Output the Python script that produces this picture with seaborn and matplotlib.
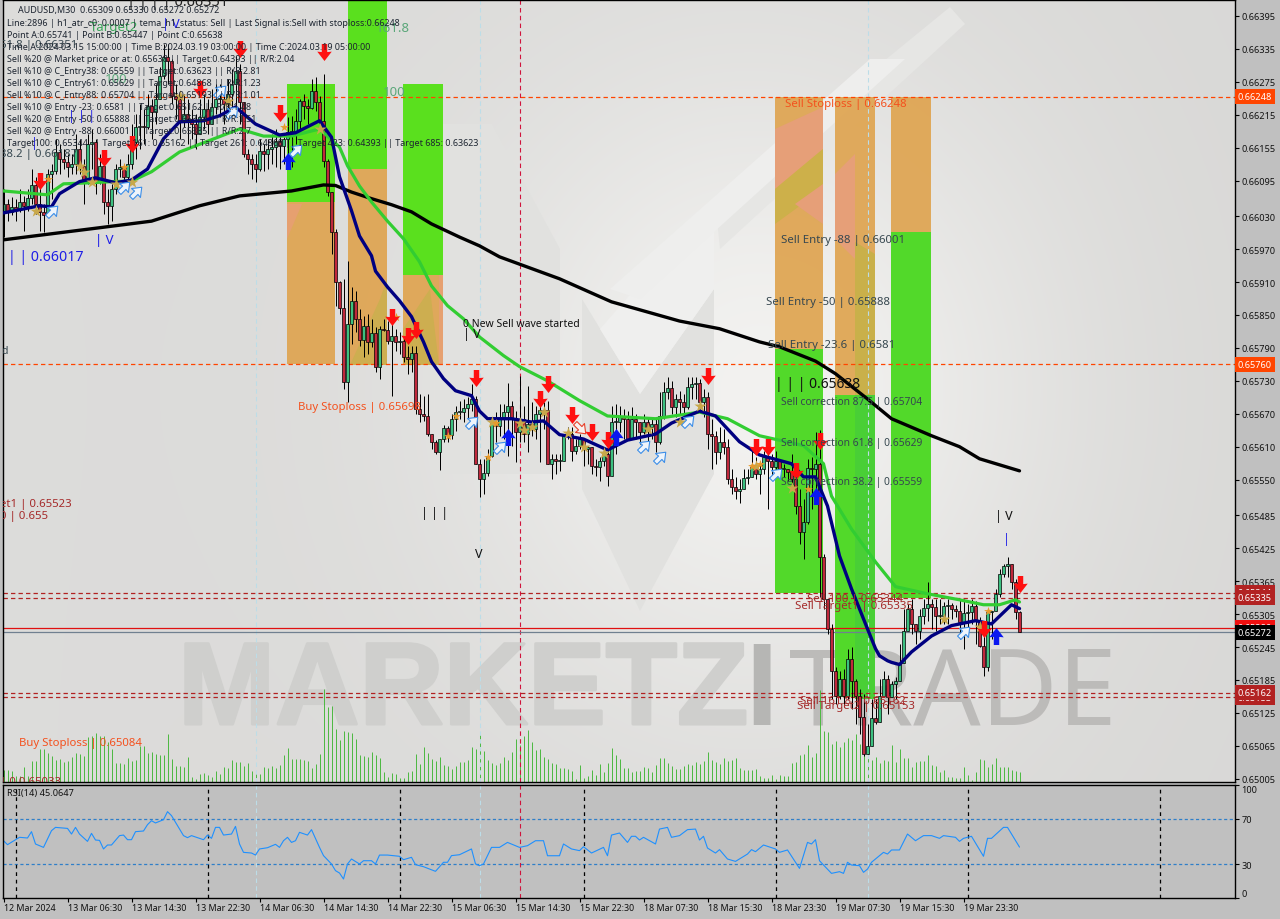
import numpy as np
import pandas as pd
import matplotlib
matplotlib.use("Agg")
import matplotlib.pyplot as plt
import matplotlib.transforms as mtrans
import matplotlib.patheffects as pe
from matplotlib.path import Path
from matplotlib.patches import Polygon, Rectangle
import seaborn as sns

closes = [
66052,66038,66047,66043,66056,66049,66063,66087,66052,66038,
66032,66107,66113,66147,66134,66129,66120,66125,66153,66122,
66093,66162,66165,66093,66122,66056,66049,66080,66116,66120,
66102,66125,66165,66193,66195,66193,66231,66220,66244,66286,
66320,66313,66249,66244,66202,66216,66207,66198,66180,66211,
66226,66198,66229,66244,66244,66235,66253,66271,66295,66238,
66144,66134,66125,66116,66149,66144,66153,66156,66167,66158,
66171,66184,66184,66204,66240,66231,66227,66258,66238,66204,
66131,66074,66001,65910,65863,65728,65834,65876,65843,65805,
65830,65801,65817,65755,65825,65823,65802,65812,65801,65802,
65773,65770,65781,65679,65670,65666,65633,65619,65601,65624,
65644,65632,65661,65673,65673,65681,65688,65697,65579,65551,
65562,65593,65655,65648,65661,65673,65684,65663,65637,65661,
65633,65652,65643,65670,65676,65676,65579,65588,65584,65584,
65630,65633,65602,65611,65624,65606,65610,65575,65573,65584,
65597,65557,65655,65655,65664,65661,65624,65661,65655,65637,
65655,65646,65652,65619,65666,65710,65717,65683,65697,65692,
65683,65719,65725,65726,65692,65701,65633,65630,65601,65619,
65610,65551,65537,65530,65533,65553,65555,65573,65561,65570,
65592,65584,65573,65584,65570,65570,65564,65551,65502,65455,
65473,65571,65570,65579,65409,65333,65278,65202,65156,65187,
65156,65223,65183,65156,65118,65050,65065,65116,65109,65156,
65187,65154,65178,65183,65216,65274,65315,65287,65274,65302,
65316,65324,65318,65302,65302,65320,65322,65315,65311,65291,
65307,65309,65320,65293,65247,65209,65309,65311,65342,65378,
65393,65397,65364,65309,65272]
highs = [
66080,66062,66065,66062,66080,66067,66080,66116,66102,66089,
66052,66116,66125,66171,66162,66153,66144,66144,66180,66171,
66134,66180,66189,66171,66144,66134,66080,66089,66125,66134,
66125,66144,66198,66216,66235,66226,66253,66244,66271,66302,
66344,66344,66317,66271,66253,66253,66244,66226,66216,66244,
66253,66244,66262,66271,66271,66253,66280,66298,66322,66308,
66207,66153,66144,66144,66171,66162,66171,66180,66189,66180,
66175,66211,66213,66226,66244,66253,66244,66280,66284,66249,
66289,66134,66074,66007,65912,65916,65949,65901,65894,65861,
65848,65852,65843,65828,65830,65843,65839,65837,65825,65819,
65810,65794,65794,65794,65706,65702,65706,65633,65622,65624,
65650,65648,65670,65684,65693,65697,65701,65724,65703,65588,
65588,65606,65661,65673,65688,65688,65726,65693,65675,65739,
65684,65721,65692,65684,65688,65692,65693,65597,65597,65597,
65633,65646,65646,65624,65633,65615,65611,65610,65588,65591,
65606,65633,65684,65688,65684,65679,65675,65682,65670,65652,
65670,65664,65664,65664,65710,65728,65737,65730,65706,65712,
65706,65737,65737,65737,65734,65715,65710,65661,65639,65646,
65643,65624,65570,65555,65551,65570,65570,65606,65591,65584,
65602,65597,65597,65602,65584,65579,65570,65597,65570,65533,
65515,65588,65591,65637,65640,65415,65333,65287,65209,65202,
65205,65242,65245,65187,65169,65160,65105,65151,65151,65187,
65202,65194,65183,65190,65251,65315,65324,65333,65287,65315,
65333,65364,65333,65333,65333,65327,65333,65326,65322,65333,
65333,65324,65333,65329,65300,65269,65315,65311,65351,65387,
65397,65409,65397,65369,65311]
lows = [
65993,66021,66032,66021,66038,66003,66040,66052,66034,66003,
66001,66029,66062,66107,66107,66116,66102,66107,66107,66107,
66052,66089,66116,66071,66089,66034,66016,66021,66071,66102,
66080,66080,66116,66134,66153,66162,66189,66171,66198,66244,
66280,66271,66235,66207,66171,66193,66162,66171,66153,66180,
66189,66180,66198,66216,66211,66198,66211,66229,66226,66198,
66138,66107,66098,66093,66113,66113,66116,66125,66120,66116,
66125,66125,66120,66162,66189,66207,66198,66226,66222,66189,
66120,66067,65962,65867,65852,65715,65692,65797,65819,65794,
65774,65779,65792,65747,65734,65821,65797,65703,65785,65779,
65764,65743,65746,65670,65655,65657,65630,65606,65597,65568,
65619,65619,65624,65639,65661,65655,65661,65675,65579,65519,
65524,65557,65591,65619,65630,65624,65593,65611,65582,65619,
65619,65601,65630,65624,65582,65643,65579,65551,65560,65566,
65584,65624,65584,65597,65606,65575,65579,65560,65557,65548,
65575,65539,65557,65597,65637,65624,65624,65624,65624,65615,
65633,65615,65624,65601,65615,65661,65697,65670,65664,65670,
65670,65679,65697,65697,65679,65664,65606,65570,65579,65588,
65597,65542,65524,65515,65508,65533,65542,65560,65551,65524,
65560,65497,65555,65566,65555,65555,65548,65537,65488,65433,
65406,65469,65497,65506,65337,65315,65269,65151,65141,65151,
65136,65151,65132,65105,65087,65046,65056,65087,65105,65141,
65169,65123,65169,65151,65205,65251,65274,65269,65251,65260,
65287,65292,65278,65274,65287,65287,65287,65296,65300,65260,
65242,65269,65287,65251,65245,65192,65201,65260,65311,65337,
65373,65373,65351,65296,65272]
volumes = [
12,12,11,6,6,15,6,21,21,33,33,29,26,22,23,20,21,25,29,28,
26,45,46,49,46,46,40,33,19,19,18,24,21,22,36,36,29,30,28,27,
27,48,23,16,16,15,25,5,3,8,9,7,5,11,8,15,14,22,20,20,
16,19,11,10,8,15,14,16,14,17,27,34,23,23,23,22,21,14,18,28,
93,75,76,53,42,51,50,49,43,27,26,25,30,27,24,10,5,9,8,4,
4,10,11,28,18,35,29,23,21,25,17,16,13,16,20,20,22,35,33,48,
31,22,19,17,19,25,22,30,43,37,46,52,40,32,33,25,23,19,18,14,
14,13,11,3,17,4,6,12,7,18,10,19,34,27,23,14,14,10,11,11,
15,14,10,17,24,24,19,16,13,13,16,18,17,20,18,21,30,22,20,18,
24,21,22,24,14,12,12,12,13,6,4,4,7,3,7,6,6,19,20,27,
28,37,25,29,92,51,50,38,41,35,40,44,42,48,38,28,32,22,25,19,
22,21,37,20,33,24,24,15,20,21,21,27,17,16,10,12,5,5,4,4,
15,7,2,10,23,22,15,18,24,15,15,15,12,11,10]

black_bars = [0,12,24,37,49,59,72,80,83,87,92,97,102,107,114,119,124,139,152,169,179,189,194,203,208,216,222,232,239,244,254]
black_vals = [65987,65998,66009,66021,66049,66067,66076,66087,66086,66074,66062,66051,66038,66016,65992,65976,65956,65916,65874,65839,65825,65801,65792,65766,65743,65697,65661,65630,65610,65588,65566]
green_bars = [0,11,15,22,27,32,37,44,54,59,65,72,79,84,86,89,92,96,100,104,107,111,115,119,125,129,136,144,151,163,174,181,189,200,205,207,212,218,223,231,239,245,249,253,254]
green_vals = [66076,66069,66089,66091,66093,66094,66111,66147,66175,66189,66176,66176,66189,66156,66122,66085,66056,66021,65989,65947,65903,65867,65843,65810,65776,65756,65730,65694,65666,65661,65673,65661,65630,65612,65579,65520,65460,65400,65355,65342,65331,65322,65322,65331,65327]
blue_bars = [0,9,12,14,19,23,28,32,36,40,44,50,54,58,63,69,73,79,82,84,87,89,92,93,96,99,102,105,107,110,113,117,119,121,127,132,135,139,145,151,156,163,167,174,178,184,189,197,200,203,206,209,212,216,217,218,219,221,222,224,227,232,237,243,247,252,254]
blue_vals = [66036,66049,66047,66071,66093,66100,66091,66096,66116,66171,66202,66204,66213,66229,66198,66178,66182,66204,66174,66102,66040,65994,65958,65930,65901,65876,65847,65801,65765,65734,65712,65703,65675,65661,65661,65655,65657,65632,65624,65604,65622,65633,65653,65675,65666,65619,65595,65579,65555,65555,65502,65411,65351,65278,65260,65242,65229,65220,65217,65213,65236,65265,65284,65293,65287,65322,65315]

rsi_bars = [0,1,3,4,6,7,8,10,12,13,16,17,18,19,21,22,23,24,25,26,27,29,30,31,32,33,35,36,37,38,40,41,42,45,46,47,50,51,52,53,54,55,57,58,59,60,62,63,64,66,68,69,70,71,72,73,74,76,77,79,80,82,83,84,85,86,87,89,90,92,93,94,96,99,100,102,103,105,108,110,111,112,114,117,118,119,120,122,124,126,129,131,133,135,136,139,140,142,144,145,147,150,151,152,154,156,157,158,159,160,163,164,166,167,169,171,173,174,175,176,178,179,181,183,186,187,188,190,193,194,196,199,201,202,203,204,205,207,209,210,211,212,214,215,216,217,220,221,222,224,226,228,230,232,234,235,238,239,240,242,245,246,247,250,251,254]
rsi_vals = [50.7,47.2,51.6,53.7,53.1,58.7,47.8,44.8,59.6,62.5,61.6,56.6,62.5,56.6,50.1,57.2,51.3,51,43.4,46.9,46.9,55.2,55.7,51.6,51.6,58.7,59.3,64.9,68.4,66.4,69.3,76.4,72.9,55.2,53.4,55.2,51.6,55.7,52.8,62.5,62.5,55.7,56.6,63.4,47.8,40.4,39.8,38,43.4,44.5,47.5,44.8,50.7,53.7,49.2,50.7,58.1,55.7,60.5,44.8,37.5,30.1,24.2,22.1,16.8,30.1,34.5,30.1,33,33,30.1,38,38,36.9,33.9,36,29.5,27.7,23.6,31.6,31.6,37.5,38.3,43.4,30.1,28.6,30.1,44.8,44.8,49.2,44.8,46.3,50.7,50.7,37.4,37.4,47.8,43.4,41.9,45.4,39.8,44.8,37.4,55.7,57.5,49.2,54.6,54.6,51.3,53.7,47.8,61,62.5,53.7,55.2,60.5,61,51.3,54.6,44.2,39.8,42.8,34.5,32.4,38.9,42.8,41,46.9,43.4,40.4,42.5,26.2,49.2,47.8,51.6,33,29.2,21.8,23.3,21.8,31.6,29.2,28.6,22.7,25.6,31.6,40.4,38.9,42.5,42.5,56.6,50.7,55.2,55.2,52.8,55.2,53.7,50.1,52.8,54.6,36.9,52.8,52.8,62.5,62.5,45.06]

sell_bars = [9,25,32,49,59,69,80,97,101,103,118,134,136,142,147,151,176,188,191,198,204,245,254]
sell_vals = [66094,66136,66162,66262,66335,66218,66329,65847,65812,65823,65735,65697,65725,65668,65637,65622,65739,65610,65610,65566,65621,65278,65360]
buy_bars = [71,126,153,203,248]
buy_vals = [66131,65628,65628,65520,65265]
hollow_bars = [12,30,33,54,57,73,117,124,160,164,171,193,240]
hollow_vals = [66040,66083,66074,66258,66220,66151,65655,65610,65612,65592,65657,65561,65273]
hollow_sell_bars = [144]
hollow_sell_vals = [65644]
star_bars = [8,19,20,22,28,32,44,56,79,122,129,130,132,135,141,145,150,161,169,174,188,197,235,244]
star_vals = [66040,66122,66111,66093,66089,66093,66249,66240,66189,65655,65653,65641,65646,65674,65635,65610,65599,65643,65655,65684,65575,65535,65296,65282]
cross_bars = [11,30,70,98,111,113,121,123,187,189,201,246]
cross_vals = [66098,66120,66193,65847,65630,65666,65592,65653,65575,65579,65533,65311]

tick_labels_x = ["12 Mar 2024","13 Mar 06:30","13 Mar 14:30","13 Mar 22:30","14 Mar 06:30","14 Mar 14:30","14 Mar 22:30",
                 "15 Mar 06:30","15 Mar 14:30","15 Mar 22:30","18 Mar 07:30","18 Mar 15:30","18 Mar 23:30","19 Mar 07:30",
                 "19 Mar 15:30","19 Mar 23:30"]
price_ticks = [0.66395,0.66335,0.66275,0.66215,0.66155,0.66095,0.66030,0.65970,0.65910,0.65850,0.65790,0.65730,
               0.65670,0.65610,0.65550,0.65485,0.65425,0.65365,0.65305,0.65245,0.65185,0.65125,0.65065,0.65005]
levels_stop = [0.66248,0.65760]
levels_target = [0.65344,0.65335,0.65162,0.65153]
bid = 0.65272
ask = 0.65280
day_bars = [3,51,99,145,193,241,289]

zone_left = [70.9,86.1,99.9,192.9,207.9,221.9]
zone_right = [82.9,95.9,109.9,204.9,217.9,231.9]
zone_orange_hi = [0.65760,0.65760,0.65760,0.66248,0.66248,0.66248]
zone_mid = [0.66056,0.66116,0.65923,0.65788,0.65705,0.66001]
zone_green_end = [0.66271,0.66424,0.66271,0.65344,0.65153,0.65335]

W, H = 1280, 920
TOP, BOT, LEFT, RIGHT = 1, 783, 3, 1235
sns.set_theme(style="white")
plt.rcParams["font.family"] = ["Noto Sans", "DejaVu Sans"]
fig = plt.figure(figsize=(W/100, H/100), dpi=100, facecolor="#c0c0c0")
ax = fig.add_axes([LEFT/W, (H-BOT)/H, (RIGHT-LEFT)/W, (BOT-TOP)/H])
rs = fig.add_axes([LEFT/W, (H-899)/H, (RIGHT-LEFT)/W, 113/H], facecolor="#c0c0c0")
PX = mtrans.Affine2D().scale(1, -1).translate(0, H)

# chart background
yy, xx = np.mgrid[0:1:120j, 0:1:160j]
glow = np.exp(-(((xx-0.62)/0.24)**2 + ((yy-0.5)/0.42)**2))
edge = 0.85 + 0.015*(1-xx)
shade = edge + 0.095*glow
ax.imshow(np.dstack([shade, shade*0.998, shade*0.99]).clip(0, 1), extent=(0, 1, 0, 1), transform=ax.transAxes,
          aspect="auto", zorder=0, interpolation="bilinear")

# logo watermark
grey = "#e1e1df"
for pts, col in [
    ([(435,125),(492,125),(560,250),(560,475),(435,475)], grey),
    ([(582,300),(640,395),(714,290),(714,475),(640,612),(582,490)], grey),
    ([(714,290),(640,395),(600,330),(714,200)], "#efefee"),
    ([(950,8),(965,25),(720,250),(715,200)], "#e6e6e4"),
    ([(870,60),(905,60),(640,300),(610,290)], "#eeeeed"),
]:
    ax.add_patch(Polygon(pts, closed=True, transform=PX, facecolor=col, edgecolor="none", zorder=0.5))
thick = [pe.withStroke(linewidth=2.2, foreground="#cfcfcd")]
ax.text(178, 725, "MARKETZ", transform=PX, family=["Liberation Sans"], weight="bold", fontsize=84, color="#cfcfcd",
        zorder=0.6, va="baseline", clip_on=True, path_effects=thick)
ax.text(745, 725, "I", transform=PX, family=["Liberation Sans"], weight="bold", fontsize=84, color="#b6b6b4",
        zorder=0.6, va="baseline", clip_on=True)
ax.text(789, 725, "TRADE", transform=PX, family=["Noto Sans"], weight="light", fontsize=76, color="#bcbbb9",
        zorder=0.6, va="baseline", clip_on=True)

opens = [66040] + closes[:-1]
df = pd.DataFrame({"open": opens, "high": highs, "low": lows, "close": closes, "vol": volumes})
df[["open", "high", "low", "close"]] /= 1e5
df["bar"] = df.index
df["high"] = df[["high", "open", "close"]].max(axis=1)
df["low"] = df[["low", "open", "close"]].min(axis=1)

# zones
for l, r, top, mid, end in zip(zone_left, zone_right, zone_orange_hi, zone_mid, zone_green_end):
    if top > 0.66:
        ax.add_patch(Rectangle((l, mid), r-l, top-mid, facecolor="#dfa450", alpha=0.92, edgecolor="none", zorder=1))
        ax.add_patch(Rectangle((l, end), r-l, mid-end, facecolor="#52d92a", edgecolor="none", zorder=1))
    else:
        ax.add_patch(Rectangle((l, top), r-l, mid-top, facecolor="#dfa450", alpha=0.92, edgecolor="none", zorder=1))
        ax.add_patch(Rectangle((l, mid), r-l, end-mid, facecolor="#5ae01e", edgecolor="none", zorder=1))
# tints the watermark leaves on the zones
for pts, col in [
    ([(775,130),(823,108),(823,150),(775,190)], "#e69f78"),
    ([(775,190),(823,150),(823,190),(775,225)], "#cdb04a"),
    ([(795,205),(823,185),(823,225)], "#e69f78"),
    ([(835,175),(855,155),(855,260),(835,240)], "#e69f78"),
    ([(855,243),(875,255),(875,396),(855,396)], "#c9b04a"),
    ([(855,396),(875,396),(875,700),(855,700)], "#49cf36"),
    ([(439,276),(443,276),(443,366),(439,366)], "#e6a070"),
    ([(287,205),(302,205),(287,240)], "#e6a070"),
    ([(380,300),(387,280),(387,366),(350,366)], "#cdae50"),
    ([(403,366),(403,330),(430,290),(439,366)], "#cdae50"),
]:
    ax.add_patch(Polygon(pts, closed=True, transform=PX, facecolor=col, edgecolor="none", zorder=1.05))

# volume
ax.vlines(df["bar"], 0, df["vol"]/782, transform=ax.get_xaxis_transform(), color="#4fb944", lw=0.72, zorder=1.5)

# reference lines
for d in [63, 119, 216]:
    ax.axvline(d, color="#bcdde8", lw=0.8, ls=(0, (4, 3)), zorder=1.6)
    rs.axvline(d, color="#bcdde8", lw=0.8, ls=(0, (4, 3)), zorder=1.6)
ax.axvline(129, color="#d0143c", lw=0.8, ls=(0, (4, 3)), zorder=1.6)
rs.axvline(129, color="#d0143c", lw=0.8, ls=(0, (4, 3)), zorder=1.6)
for lv in levels_stop:
    ax.axhline(lv, color="#ff4500", lw=0.9, ls=(0, (3.5, 2.5)), zorder=1.7)
for lv in levels_target:
    ax.axhline(lv, color="#b22222", lw=0.9, ls=(0, (3.5, 2.5)), zorder=1.7)
ax.axhline(ask, color="#e01010", lw=0.9, zorder=1.7)
ax.axhline(bid, color="#708090", lw=0.9, zorder=1.7)

# candles
ax.vlines(df["bar"], df["low"], df["high"], color="black", lw=0.72, zorder=2)
up = df["close"] >= df["open"]
for mask, col in [(up, "#3cc080"), (~up, "#c0283c")]:
    sub = df[mask]
    ax.bar(sub["bar"], (sub["close"]-sub["open"]).abs().clip(lower=1.5e-5), bottom=sub[["open", "close"]].min(axis=1),
           width=0.66, color=col, edgecolor="black", linewidth=0.5, zorder=2.2)

# moving averages
for bars, vals, col, lw in [(black_bars, black_vals, "black", 2.4), (green_bars, green_vals, "#32cd32", 2.3), (blue_bars, blue_vals, "#000080", 2.4)]:
    sns.lineplot(x=bars, y=np.array(vals)/1e5, color=col, linewidth=lw, ax=ax, estimator=None, sort=False, legend=False,
                 zorder=3, solid_joinstyle="round")

# signals
arrow_down = Path([(-0.32,1),(0.32,1),(0.32,0.05),(0.85,0.1),(0,-1),(-0.85,0.1),(-0.32,0.05),(-0.32,1)], closed=True)
arrow_up = Path([(x, -y) for x, y in arrow_down.vertices], closed=True)
arrow_diag = arrow_down.transformed(mtrans.Affine2D().rotate_deg(135))
arrow_sell_hollow = arrow_down.transformed(mtrans.Affine2D().rotate_deg(45))
ax.scatter(star_bars, np.array(star_vals)/1e5, marker="*", s=85, color="#c8a84b", linewidths=0, zorder=3.5)
ax.scatter(cross_bars, np.array(cross_vals)/1e5, marker="*", s=45, color="#e79a2c", linewidths=0, zorder=3.5)
ax.scatter(sell_bars, np.array(sell_vals)/1e5, marker=arrow_down, s=150, color="#ff1010", linewidths=0, zorder=4)
ax.scatter(buy_bars, np.array(buy_vals)/1e5, marker=arrow_up, s=150, color="#0a18f0", linewidths=0, zorder=4)
ax.scatter(hollow_bars, np.array(hollow_vals)/1e5, marker=arrow_diag, s=100, facecolor="#eef4fb", edgecolor="#3c8ee8", linewidths=0.8, zorder=4)
ax.scatter(hollow_sell_bars, np.array(hollow_sell_vals)/1e5, marker=arrow_sell_hollow, s=100, facecolor="#f8f0ee", edgecolor="#e8402a", linewidths=0.8, zorder=4)

ax.set_xlim(-0.125, 307.875)
ax.set_ylim(0.64999, 0.66424)

# labels
def label(x, y, s, col="#2a3340", size=7.3, **kw):
    ax.text(x, y, s, transform=PX, color=col, fontsize=size, va="center", ha="left", zorder=5, clip_on=True, **kw)

slate = "#36474f"
brown = "#a52a2a"
orng = "#f4511e"
blue = "#1e1ee6"
label(127, 3, "| | | | 0.66351", "#222222", 10.5)
label(90, 28, "Target2", "#3aa55a", 9.5)
label(376, 29, "161.8", "#5ba77a", 9.5)
label(0, 46, "61.8 | 0.66351", slate, 8.2)
label(105, 80, "100", "#5ba77a", 9.5)
label(383, 93, "100", "#5ba77a", 9.5)
label(162, 25, "| V", blue, 9)
label(68, 117, "| | |", blue, 9)
label(31, 144, "|", blue, 9)
label(0, 155, "88.2 | 0.66187", slate, 8.2)
label(95, 241, "| V", blue, 9.5)
label(8, 258, "| | 0.66017", blue, 10.2)
label(1, 352, "d", slate, 7.5)
label(463, 325, "0 New Sell wave started", "#111111", 7.5)
label(463, 335, "| V", "#111111", 9)
label(298, 408, "Buy Stoploss | 0.65698", orng, 8.2)
label(421, 514, "| | |", "#111111", 9)
label(475, 555, "V", "#111111", 9)
label(0, 505, "et1 | 0.65523", brown, 8.2)
label(0, 517, "0 | 0.655", brown, 8.2)
label(19, 744, "Buy Stoploss | 0.65084", orng, 8.2)
label(0, 783, "| 0 0.65033", brown, 8.2)
label(785, 105, "Sell Stoploss | 0.66248", orng, 8.2)
label(781, 241, "Sell Entry -88 | 0.66001", slate, 8.2)
label(766, 303, "Sell Entry -50 | 0.65888", slate, 8.2)
label(768, 346, "Sell Entry -23.6 | 0.6581", slate, 8.2)
label(775, 385, "| | | 0.65638", "#111111", 10)
label(781, 403, "Sell correction 87.5 | 0.65704", slate, 7.4)
label(781, 444, "Sell correction 61.8 | 0.65629", slate, 7.4)
label(781, 483, "Sell correction 38.2 | 0.65559", slate, 7.4)
label(807, 600, "Sell 100 | 0.65344", brown, 8.2)
label(795, 607, "Sell Target1 | 0.65335", brown, 8.2)
label(800, 702, "Sell 161.8 | 0.65162", brown, 8.2)
label(797, 707, "Sell Target2 | 0.65153", brown, 8.2)
label(995, 517, "| V", "#111111", 9)
label(1003, 540, "|", blue, 9)

info = [
    (18, 11, "AUDUSD,M30  0.65309 0.65330 0.65272 0.65272"),
    (7, 24, "Line:2896 | h1_atr_c0: 0.0007 | tema_h1_status: Sell | Last Signal is:Sell with stoploss:0.66248"),
    (7, 36, "Point A:0.65741 | Point B:0.65447 | Point C:0.65638"),
    (7, 48, "Time A:2024.03.15 15:00:00 | Time B:2024.03.19 03:00:00 | Time C:2024.03.19 05:00:00"),
    (7, 60, "Sell %20 @ Market price or at: 0.65638 || Target:0.64393 || R/R:2.04"),
    (7, 72, "Sell %10 @ C_Entry38: 0.65559 || Target:0.63623 || R/R:2.81"),
    (7, 84, "Sell %10 @ C_Entry61: 0.65629 || Target:0.64868 || R/R:1.23"),
    (7, 96, "Sell %10 @ C_Entry88: 0.65704 || Target:0.65193 || R/R:1.01"),
    (7, 108, "Sell %10 @ Entry -23: 0.6581 || Target:0.65162 || R/R:1.48"),
    (7, 120, "Sell %20 @ Entry -50: 0.65888 || Target:0.65344 || R/R:1.51"),
    (7, 132, "Sell %20 @ Entry -88: 0.66001 || Target:0.65335 || R/R:2.7"),
    (7, 144, "Target100: 0.65344 || Target 161: 0.65162 || Target 261: 0.64868 || Target 423: 0.64393 || Target 685: 0.63623"),
]
for x, y, s in info:
    label(x, y, s, "#1c2430", 6.45)

# axes furniture
ax.yaxis.tick_right()
ax.set_yticks(price_ticks)
ax.set_yticklabels([f"{p:.5f}" for p in price_ticks], fontsize=6.6, color="#111111")
ax.tick_params(axis="y", length=3, width=0.8, pad=1.5, color="black", right=True, left=False)
ax.set_xticks([])
ax.set_xlabel(""); ax.set_ylabel("")
for s in ax.spines.values():
    s.set_color("black"); s.set_linewidth(1.0); s.set_visible(True)

# price tags
for p, txt, col in [(0.66248, "0.66248", "#ff4500"), (0.65760, "0.65760", "#ff4500"),
                    (0.65344, "0.65344", "#b22222"), (0.65335, "0.65335", "#b22222"),
                    (0.65153, "0.65153", "#b22222"), (0.65162, "0.65162", "#b22222"),
                    (0.65280, "0.65280", "#f01010"), (0.65272, "0.65272", "black")]:
    ax.text(1.0024, p, txt, transform=ax.get_yaxis_transform(), color="white", fontsize=6.6, va="center", ha="left",
            bbox=dict(boxstyle="square,pad=0.34", facecolor=col, edgecolor="none"), clip_on=False, zorder=6)

# RSI panel
rs.axhline(70, color="#2f7fc8", lw=0.9, ls=(0, (2.5, 2)), zorder=1)
rs.axhline(30, color="#2f7fc8", lw=0.9, ls=(0, (2.5, 2)), zorder=1)
for d in day_bars:
    rs.axvline(d, color="black", lw=0.9, ls=(0, (3, 3)), zorder=1)
sns.lineplot(x=rsi_bars, y=rsi_vals, color="#1e90ff", linewidth=0.8, ax=rs, estimator=None, sort=False, legend=False, zorder=2)
rs.set_xlim(-0.125, 307.875)
rs.set_ylim(0, 100)
rs.yaxis.tick_right()
rs.set_yticks([0, 30, 70, 100])
labs = rs.set_yticklabels(["0", "30", "70", "100"], fontsize=6.6, color="#111111")
labs[0].set_va("bottom"); labs[3].set_va("top")
rs.tick_params(axis="y", length=3, width=0.8, pad=1.5, color="black", right=True, left=False)
xt = [16*i for i in range(len(tick_labels_x))]
rs.set_xticks(xt)
rs.set_xticklabels(tick_labels_x, fontsize=6.4, color="#111111", ha="left")
rs.tick_params(axis="x", length=3, width=0.8, pad=0.8, color="black", bottom=True)
rs.set_xlabel(""); rs.set_ylabel("")
for s in rs.spines.values():
    s.set_color("black"); s.set_linewidth(1.0); s.set_visible(True)
rs.text(7, 794, "RSI(14) 45.0647", transform=PX, color="#111111", fontsize=6.6, va="center", ha="left")

fig.savefig("out.png", dpi=100, facecolor=fig.get_facecolor())
